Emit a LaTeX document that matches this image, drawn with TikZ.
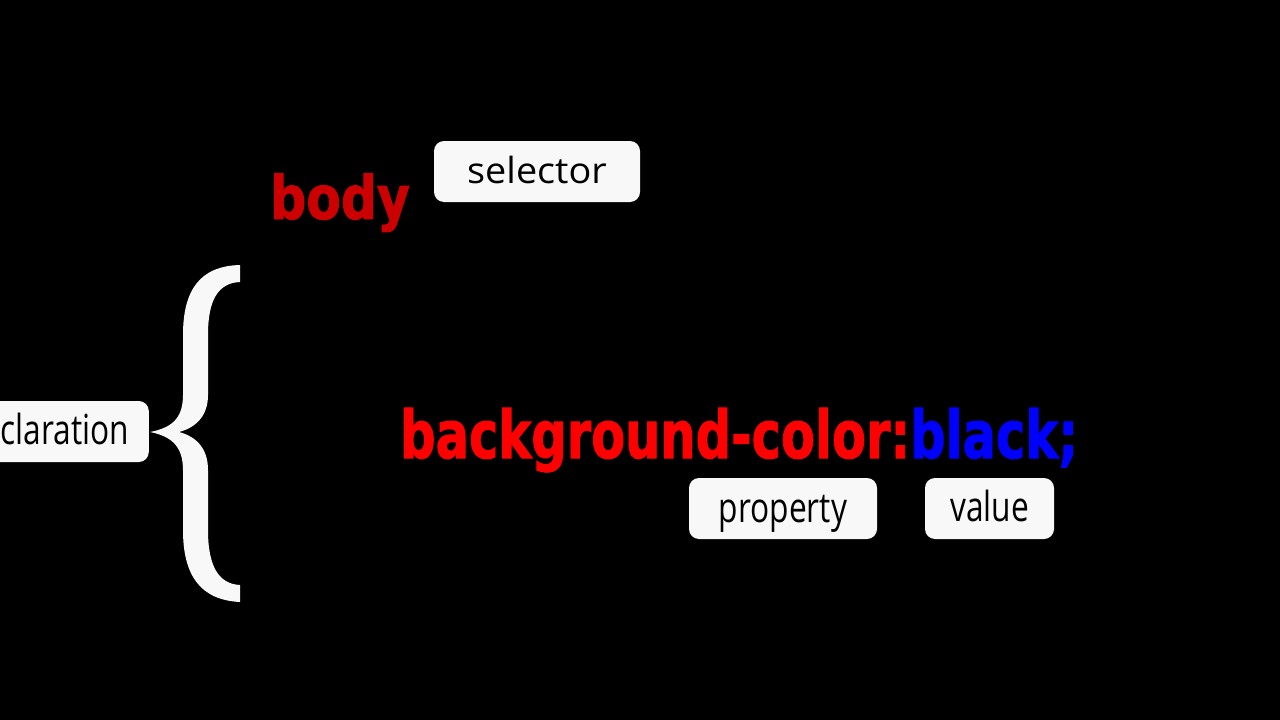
\documentclass[tikz,border=0pt]{standalone}
\usepackage{fontspec}
\usepackage{graphicx}
\setmainfont{Open Sans}
\newfontfamily\heavy{DejaVu Sans}[BoldFeatures={FakeBold=1.6}]
\definecolor{tagfill}{HTML}{F8F8F8}
\definecolor{bodyred}{HTML}{CC0000}
\definecolor{propred}{HTML}{FF0000}
\definecolor{valblue}{HTML}{0000FF}
\newcommand{\tallword}[1]{\scalebox{0.88}[1.15]{#1}}
\tikzset{
  tag/.style={fill=tagfill, rounded corners=10pt, text=black, inner sep=0pt,
    minimum height=61pt, font=\fontsize{36}{42}\selectfont},
  code/.style={inner sep=0pt, anchor=base west}
}
\begin{document}
\begin{tikzpicture}[x=1pt,y=-1pt]
\fill[black] (0,0) rectangle (1280,720);
\useasboundingbox (0,0) rectangle (1280,720);
\clip (0,0) rectangle (1280,720);
% brace
\fill[tagfill] (240,265) .. controls (200,266) and (183,290) .. (183,335)
  -- (183,395) .. controls (183,420) and (170,428) .. (150,432)
  .. controls (170,436) and (183,445) .. (183,470)
  -- (183,530) .. controls (183,575) and (200,600) .. (240,602)
  -- (240,585) .. controls (218,584) and (208,565) .. (208,530)
  -- (208,470) .. controls (208,450) and (198,437) .. (179,432)
  .. controls (198,427) and (208,414) .. (208,395)
  -- (208,335) .. controls (208,300) and (218,283) .. (240,282) -- cycle;
% code text
\node[code, text=bodyred] (body) at (270,219)
  {\scalebox{0.84}[1]{\heavy\bfseries\fontsize{60}{72}\selectfont body}};
\node[code] (decl) at (400,458)
  {\scalebox{0.75}[1]{\heavy\bfseries\fontsize{66}{78}\selectfont\textcolor{propred}{background-color:}\textcolor{valblue}{black;}}};
% tags
\node[tag, minimum width=206pt, text height=30pt, text depth=7pt] (selector) at (537,171.5)
  {\scalebox{1.05}[1]{selector}};
\node[tag, minimum width=188pt, text height=32pt, text depth=4pt] (property) at (783,508.5)
  {\tallword{property}};
\node[tag, minimum width=129pt, text height=30pt, text depth=3.6pt] (value) at (989.5,508.5)
  {\tallword{value}};
\node[tag, anchor=east, inner xsep=20pt, text height=30pt, text depth=4pt] (declaration) at (149,431.5)
  {\tallword{declaration}};
\end{tikzpicture}
\end{document}
